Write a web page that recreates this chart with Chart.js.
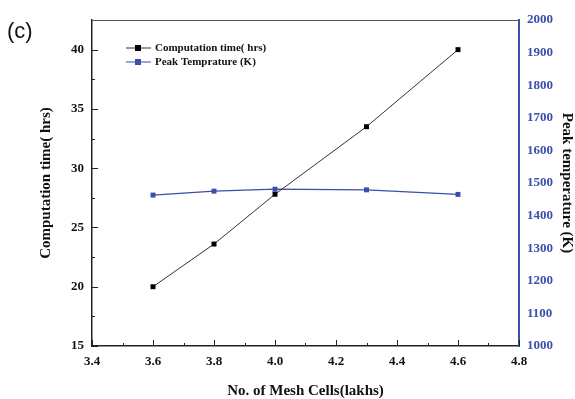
<!DOCTYPE html>
<html>
<head>
<meta charset="utf-8">
<script src="https://cdn.jsdelivr.net/npm/chart.js@4"></script>
<style>
  body { margin: 0; background: #fff; }
  #wrap { width: 575px; height: 399px; }
</style>
</head>
<body>
<div id="wrap"><canvas id="chart"></canvas></div>
<script>
// ----------------------------
// DATA
// ----------------------------
const meshCells = [3.6, 3.8, 4.0, 4.3, 4.6];
const computationTime = [20.0, 23.6, 27.8, 33.5, 40.0];
const peakTemperature = [1463, 1475, 1481, 1479, 1465];

const seriesLabels = ["Computation time( hrs)", "Peak Temprature (K)"];
const panelLabel = "(c)";

const BLUE = "#3a4fa8";
const SERIF = "'Liberation Serif', 'Times New Roman', serif";

// ----------------------------
// PLUGIN: inward ticks, frame, legend, panel label
// ----------------------------
const decorations = {
    id: "decorations",
    beforeDatasetsDraw(chart) {
        const ctx = chart.ctx;
        const area = chart.chartArea;
        const x = chart.scales.x;
        const y = chart.scales.y;

        ctx.save();
        ctx.strokeStyle = "#222";
        ctx.lineWidth = 1;

        // x ticks pointing up into the plot
        x.ticks.forEach((t, i) => {
            const px = Math.round(x.getPixelForValue(t.value)) + 0.5;
            ctx.beginPath();
            ctx.moveTo(px, area.bottom);
            ctx.lineTo(px, area.bottom - 6);
            ctx.stroke();
            if (i < x.ticks.length - 1) {
                const mx = Math.round(x.getPixelForValue((t.value + x.ticks[i + 1].value) / 2)) + 0.5;
                ctx.beginPath();
                ctx.moveTo(mx, area.bottom);
                ctx.lineTo(mx, area.bottom - 3);
                ctx.stroke();
            }
        });

        // left y ticks pointing right into the plot
        y.ticks.forEach((t, i) => {
            const py = Math.round(y.getPixelForValue(t.value)) + 0.5;
            ctx.beginPath();
            ctx.moveTo(area.left, py);
            ctx.lineTo(area.left + 6, py);
            ctx.stroke();
            if (i < y.ticks.length - 1) {
                const my = Math.round(y.getPixelForValue((t.value + y.ticks[i + 1].value) / 2)) + 0.5;
                ctx.beginPath();
                ctx.moveTo(area.left, my);
                ctx.lineTo(area.left + 3, my);
                ctx.stroke();
            }
        });

        // top frame line
        ctx.strokeStyle = "#555";
        ctx.beginPath();
        ctx.moveTo(area.left, area.top + 0.5);
        ctx.lineTo(area.right, area.top + 0.5);
        ctx.stroke();
        ctx.restore();
    },
    afterDraw(chart) {
        const ctx = chart.ctx;
        ctx.save();

        // legend
        chart.data.datasets.forEach((ds, i) => {
            const ly = 48 + i * 14;
            ctx.strokeStyle = ds.borderColor;
            ctx.lineWidth = 1;
            ctx.beginPath();
            ctx.moveTo(126, ly);
            ctx.lineTo(151, ly);
            ctx.stroke();
            ctx.fillStyle = ds.pointBackgroundColor;
            ctx.fillRect(135, ly - 3, 6, 6);
            ctx.fillStyle = "#111";
            ctx.font = "bold 11px " + SERIF;
            ctx.textBaseline = "middle";
            ctx.textAlign = "left";
            ctx.fillText(ds.label, 155, ly);
        });

        // panel label
        ctx.fillStyle = "#111";
        ctx.font = "22px 'Liberation Sans', Arial, sans-serif";
        ctx.textBaseline = "middle";
        ctx.fillText(panelLabel, 7, 32);
        ctx.restore();
    }
};

// ----------------------------
// CHART
// ----------------------------
const ctx = document.getElementById("chart").getContext("2d");

const titleFont = { family: SERIF, size: 15, weight: "bold", lineHeight: 1.1 };
const tickFont = { family: SERIF, size: 13, weight: "bold" };

new Chart(ctx, {
    type: "line",
    data: {
        datasets: [
            {
                label: seriesLabels[0],
                data: meshCells.map((m, i) => ({ x: m, y: computationTime[i] })),
                yAxisID: "y",
                borderColor: "#333",
                borderWidth: 1,
                pointStyle: "rect",
                pointRadius: 3.5,
                pointBackgroundColor: "#000",
                pointBorderColor: "#000",
                pointBorderWidth: 0
            },
            {
                label: seriesLabels[1],
                data: meshCells.map((m, i) => ({ x: m, y: peakTemperature[i] })),
                yAxisID: "y1",
                borderColor: BLUE,
                borderWidth: 1.2,
                pointStyle: "rect",
                pointRadius: 3.5,
                pointBackgroundColor: BLUE,
                pointBorderColor: BLUE,
                pointBorderWidth: 0
            }
        ]
    },
    options: {
        responsive: true,
        maintainAspectRatio: false,
        animation: false,
        layout: { padding: { left: 38, top: 20, right: 0, bottom: 0 } },
        plugins: {
            legend: { display: false },
            tooltip: { enabled: false }
        },
        scales: {
            x: {
                type: "linear",
                min: 3.4,
                max: 4.8,
                grid: { display: false, drawTicks: false },
                border: { display: true, color: "#222", width: 1.5 },
                ticks: {
                    stepSize: 0.2,
                    padding: 8,
                    color: "#111",
                    font: tickFont,
                    callback: v => v.toFixed(1)
                },
                title: {
                    display: true,
                    text: "No. of Mesh Cells(lakhs)",
                    color: "#111",
                    padding: 0,
                    font: titleFont
                },
                afterFit: s => { s.height = 53; }
            },
            y: {
                position: "left",
                min: 15,
                max: 42.5,
                grid: { display: false, drawTicks: false },
                border: { display: true, color: "#222", width: 1.5 },
                ticks: {
                    stepSize: 5,
                    includeBounds: false,
                    padding: 8,
                    color: "#111",
                    font: tickFont
                },
                title: {
                    display: true,
                    text: "Computation time( hrs)",
                    color: "#111",
                    padding: 0,
                    font: titleFont
                },
                afterFit: s => { s.width = 54; }
            },
            y1: {
                position: "right",
                min: 1000,
                max: 2000,
                grid: { display: false, drawTicks: false },
                border: { display: true, color: BLUE, width: 2 },
                ticks: {
                    stepSize: 100,
                    padding: 8,
                    color: BLUE,
                    font: tickFont,
                    callback: v => String(v)
                },
                title: {
                    display: true,
                    text: "Peak temperature (K)",
                    color: "#111",
                    padding: 0,
                    font: titleFont
                },
                afterFit: s => { s.width = 56; }
            }
        }
    },
    plugins: [decorations]
});
</script>
</body>
</html>
